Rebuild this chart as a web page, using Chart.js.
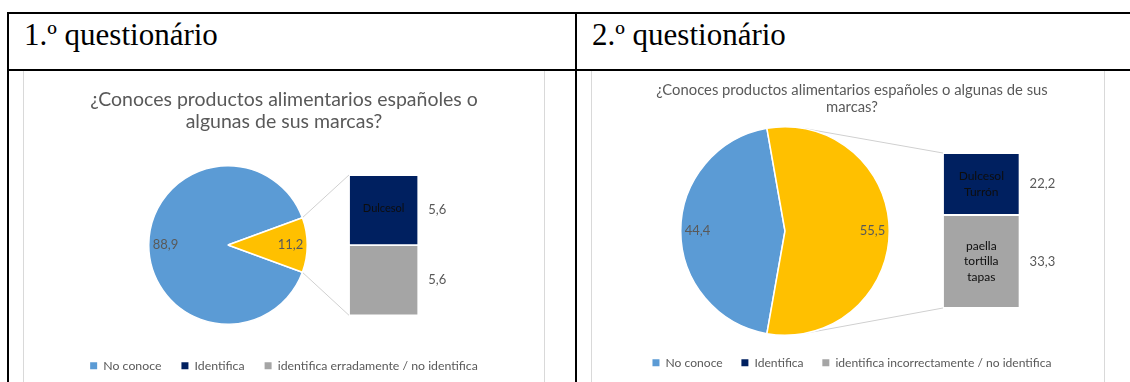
<!DOCTYPE html>
<html lang="pt">
<head>
    <meta charset="utf-8" />
    <title>Questionários</title>
    <style>
        body {
            margin: 0;
            background: #fff;
            width: 1130px;
            height: 382px;
            overflow: hidden;
            position: relative;
        }

        .rule {
            position: absolute;
            background: #000;
            z-index: 5;
        }

        .cell-title {
            position: absolute;
            top: 19px;
            font-family: "Liberation Serif", serif;
            font-size: 31px;
            line-height: 1;
            color: #000;
            white-space: nowrap;
        }

        .frame {
            position: absolute;
            top: 70px;
            height: 330px;
            border: 1px solid #d9d9d9;
        }

        .frame canvas {
            position: absolute;
        }
    </style>
</head>
<body>
    <!-- table grid -->
    <div class="rule" style="left:7px; top:12px; width:1123px; height:2px;"></div>
    <div class="rule" style="left:7px; top:69px; width:1123px; height:2px;"></div>
    <div class="rule" style="left:7px; top:12px; width:2px; height:370px;"></div>
    <div class="rule" style="left:575px; top:12px; width:2px; height:370px;"></div>

    <div class="cell-title" style="left:24px;">1.º questionário</div>
    <div class="cell-title" style="left:592px;">2.º questionário</div>

    <div class="frame" style="left:23px; width:520px;">
        <canvas id="bar1" width="520" height="311" style="left:0; top:0;"></canvas>
        <canvas id="pie1" width="160" height="160" style="left:124px; top:94px;"></canvas>
    </div>
    <div class="frame" style="left:591px; width:512px;">
        <canvas id="bar2" width="512" height="311" style="left:0; top:0;"></canvas>
        <canvas id="pie2" width="210" height="210" style="left:88px; top:55px;"></canvas>
    </div>

    <script src="https://cdn.jsdelivr.net/npm/chart.js"></script>
    <script>
        // 1.º questionário
        const pie1Labels = ['No conoce', 'Conoce'];
        const pie1Values = [88.9, 11.2];
        const bar1Labels = ['Identifica', 'identifica erradamente / no identifica'];
        const bar1Values = [5.6, 5.6];
        const bar1Notes = [['Dulcesol'], []];
        const title1 = ['¿Conoces productos alimentarios españoles o', 'algunas de sus marcas?'];

        // 2.º questionário
        const pie2Labels = ['No conoce', 'Conoce'];
        const pie2Values = [44.4, 55.5];
        const bar2Labels = ['Identifica', 'identifica incorrectamente / no identifica'];
        const bar2Values = [22.2, 33.3];
        const bar2Notes = [['Dulcesol', 'Turrón'], ['paella', 'tortilla', 'tapas']];
        const title2 = ['¿Conoces productos alimentarios españoles o algunas de sus', 'marcas?'];

        const BLUE = '#5b9bd5';
        const YELLOW = '#ffc000';
        const NAVY = '#002060';
        const GREY = '#a5a5a5';
        const TEXT = '#595959';
        const FONT = 'Lato, "Open Sans", sans-serif';

        Chart.defaults.font.family = FONT;
        Chart.defaults.color = TEXT;

        function fmt(v) {
            return String(v).replace('.', ',');
        }

        // values written just inside the rim of each slice
        const pieValueLabels = {
            id: 'pieValueLabels',
            afterDatasetsDraw(chart) {
                const ctx = chart.ctx;
                const data = chart.data.datasets[0].data;
                ctx.save();
                ctx.font = '13px ' + FONT;
                ctx.fillStyle = TEXT;
                ctx.textAlign = 'center';
                ctx.textBaseline = 'middle';
                chart.getDatasetMeta(0).data.forEach((arc, i) => {
                    const text = fmt(data[i]);
                    const mid = (arc.startAngle + arc.endAngle) / 2;
                    const d = arc.outerRadius - ctx.measureText(text).width / 2 - 4;
                    ctx.fillText(text, arc.x + Math.cos(mid) * d, arc.y + Math.sin(mid) * d);
                });
                ctx.restore();
            }
        };

        function makePie(id, labels, values) {
            const total = values.reduce((a, b) => a + b, 0);
            // keep the second slice centred on the right, facing the bar
            const rotation = 90 + values[1] / total * 180;
            return new Chart(document.getElementById(id), {
                type: 'pie',
                data: {
                    labels: labels,
                    datasets: [{
                        data: values,
                        backgroundColor: [BLUE, YELLOW],
                        borderColor: '#fff',
                        borderWidth: 1.5
                    }]
                },
                options: {
                    responsive: false,
                    animation: false,
                    rotation: rotation,
                    plugins: {
                        legend: { display: false },
                        title: { display: false },
                        tooltip: { enabled: false }
                    }
                },
                plugins: [pieValueLabels]
            });
        }

        // angle of the tangent from point (px, py) to the circle
        function tangentAngle(cx, cy, r, px, py, sign) {
            const vx = px - cx, vy = py - cy;
            const d = Math.hypot(vx, vy);
            return Math.atan2(vy, vx) + sign * Math.acos(Math.min(1, r / d));
        }

        function makeBar(id, cfg) {
            const total = cfg.values.reduce((a, b) => a + b, 0);
            const colors = [NAVY, GREY];
            const invisible = {
                display: true,
                ticks: { display: false },
                grid: { display: false },
                border: { display: false }
            };

            // lines from the split slice to the top and bottom of the bar
            const connectors = {
                id: 'connectors',
                beforeDatasetsDraw(chart) {
                    const pieCanvas = cfg.pie.canvas;
                    const arc = cfg.pie.getDatasetMeta(0).data[1];
                    const cx = arc.x + pieCanvas.offsetLeft - chart.canvas.offsetLeft;
                    const cy = arc.y + pieCanvas.offsetTop - chart.canvas.offsetTop;
                    const r = arc.outerRadius;

                    let left = Infinity, top = Infinity, bottom = -Infinity;
                    chart.data.datasets.forEach((ds, i) => {
                        const bar = chart.getDatasetMeta(i).data[0];
                        left = Math.min(left, bar.x - bar.width / 2);
                        top = Math.min(top, bar.y, bar.base);
                        bottom = Math.max(bottom, bar.y, bar.base);
                    });

                    let s = arc.startAngle, e = arc.endAngle;
                    const mid = (s + e) / 2;
                    const shift = Math.round(mid / (2 * Math.PI)) * 2 * Math.PI;
                    s -= shift;
                    e -= shift;
                    const a1 = Math.max(s, tangentAngle(cx, cy, r, left, top, -1));
                    const a2 = Math.min(e, tangentAngle(cx, cy, r, left, bottom, 1));

                    const ctx = chart.ctx;
                    ctx.save();
                    ctx.strokeStyle = '#d0d0d0';
                    ctx.lineWidth = 1;
                    ctx.beginPath();
                    ctx.moveTo(cx + Math.cos(a1) * r, cy + Math.sin(a1) * r);
                    ctx.lineTo(left, top);
                    ctx.moveTo(cx + Math.cos(a2) * r, cy + Math.sin(a2) * r);
                    ctx.lineTo(left, bottom);
                    ctx.stroke();
                    ctx.restore();
                }
            };

            // value to the right of each block, item names inside it
            const barLabels = {
                id: 'barLabels',
                afterDatasetsDraw(chart) {
                    const ctx = chart.ctx;
                    ctx.save();
                    ctx.textBaseline = 'middle';
                    chart.data.datasets.forEach((ds, i) => {
                        const bar = chart.getDatasetMeta(i).data[0];
                        const midY = (bar.y + bar.base) / 2;
                        ctx.font = '13px ' + FONT;
                        ctx.fillStyle = TEXT;
                        ctx.textAlign = 'left';
                        ctx.fillText(fmt(ds.data[0]), bar.x + bar.width / 2 + 10, midY);

                        const lines = ds.notes;
                        ctx.font = cfg.noteSize + 'px ' + FONT;
                        ctx.fillStyle = '#0d0d0d';
                        ctx.textAlign = 'center';
                        lines.forEach((t, k) => {
                            ctx.fillText(t, bar.x, midY + cfg.noteShift + (k - (lines.length - 1) / 2) * cfg.noteLine);
                        });
                    });
                    ctx.restore();
                }
            };

            // first dataset sits at the bottom of the stack, so list them in reverse
            const datasets = cfg.values.map((v, i) => ({
                label: cfg.labels[i],
                data: [v],
                notes: cfg.notes[i],
                backgroundColor: colors[i],
                borderColor: '#fff',
                borderWidth: 1.25,
                borderSkipped: false,
                barPercentage: 1,
                categoryPercentage: 1
            })).reverse();

            const legendItems = [cfg.pieLabel].concat(cfg.labels);
            const legendColors = [BLUE].concat(colors);

            return new Chart(document.getElementById(id), {
                type: 'bar',
                data: { labels: [''], datasets: datasets },
                options: {
                    responsive: false,
                    animation: false,
                    layout: { padding: { left: cfg.padLeft, bottom: cfg.padBottom } },
                    scales: {
                        x: Object.assign({ stacked: true, afterFit: s => { s.height = cfg.gapBelow; } }, invisible),
                        y: Object.assign({ stacked: true, min: 0, max: total, afterFit: s => { s.width = cfg.plotLeft; } }, invisible),
                        side: Object.assign({ type: 'linear', axis: 'y', position: 'right', afterFit: s => { s.width = cfg.plotRight; } }, invisible)
                    },
                    plugins: {
                        tooltip: { enabled: false },
                        title: {
                            display: true,
                            text: cfg.title,
                            color: TEXT,
                            font: { size: cfg.titleSize, weight: 'normal', lineHeight: cfg.titleLine },
                            padding: { top: cfg.titleTop, bottom: cfg.titleBottom }
                        },
                        legend: {
                            position: 'bottom',
                            labels: {
                                usePointStyle: true,
                                boxWidth: 7,
                                boxHeight: 7,
                                padding: cfg.legendPad,
                                color: TEXT,
                                font: { size: cfg.legendSize },
                                generateLabels: () => legendItems.map((text, i) => ({
                                    text: text,
                                    fillStyle: legendColors[i],
                                    strokeStyle: legendColors[i],
                                    lineWidth: 0,
                                    pointStyle: 'rect',
                                    fontColor: TEXT,
                                    hidden: false
                                }))
                            }
                        }
                    }
                },
                plugins: [connectors, barLabels]
            });
        }

        const pie1 = makePie('pie1', pie1Labels, pie1Values);
        const pie2 = makePie('pie2', pie2Labels, pie2Values);

        makeBar('bar1', {
            pie: pie1, pieLabel: pie1Labels[0],
            labels: bar1Labels, values: bar1Values, notes: bar1Notes, noteSize: 11, noteLine: 14, noteShift: -2,
            title: title1, titleSize: 19.5, titleLine: 1.12, titleTop: 18.1, titleBottom: 42.2,
            legendSize: 12.3, legendPad: 20, padLeft: 0, padBottom: 0, gapBelow: 24.4,
            plotLeft: 325, plotRight: 125.7
        });

        makeBar('bar2', {
            pie: pie2, pieLabel: pie2Labels[0],
            labels: bar2Labels, values: bar2Values, notes: bar2Notes, noteSize: 12, noteLine: 15.5, noteShift: 0,
            title: title2, titleSize: 14.8, titleLine: 1.2, titleTop: 10, titleBottom: 36.5,
            legendSize: 12.1, legendPad: 18.7, padLeft: 8, padBottom: 3.25, gapBelow: 29.95,
            plotLeft: 343, plotRight: 84.4
        });
    </script>
</body>
</html>
